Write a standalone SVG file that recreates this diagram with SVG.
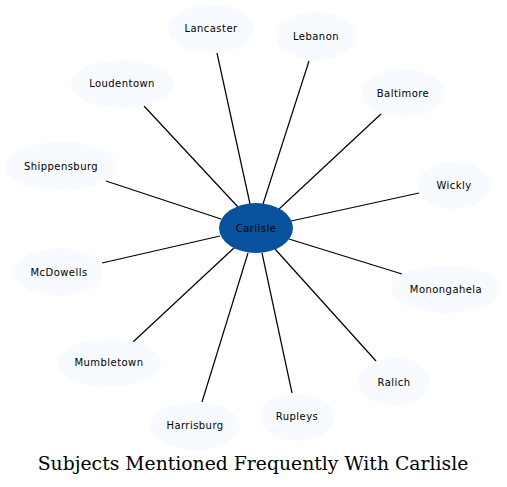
<svg xmlns="http://www.w3.org/2000/svg" width="507" height="487" viewBox="0 0 507 487">
<style>
.n ellipse{fill:#f7fbff;stroke:none}
.n text{font-family:"DejaVu Sans",sans-serif;font-size:10px;letter-spacing:0.45px;fill:#000;text-anchor:middle}
#edges line{stroke:#000;stroke-width:1.2}
.title{font-family:"DejaVu Serif",serif;font-size:18.8px;fill:#000;text-anchor:middle}
</style>
<rect width="507" height="487" fill="#fff"/>
<g id="edges">
<line x1="250" y1="204" x2="217" y2="53"/>
<line x1="263" y1="204" x2="309" y2="61"/>
<line x1="278" y1="210" x2="381" y2="114"/>
<line x1="238" y1="207" x2="144" y2="106"/>
<line x1="221" y1="219" x2="106" y2="181"/>
<line x1="291" y1="221" x2="419" y2="193"/>
<line x1="220" y1="236" x2="102" y2="263"/>
<line x1="289" y1="239" x2="402" y2="274"/>
<line x1="235" y1="247" x2="133" y2="342"/>
<line x1="275" y1="249" x2="376" y2="361"/>
<line x1="248" y1="253" x2="202" y2="402"/>
<line x1="262" y1="253" x2="292" y2="393"/>
</g>
<g id="carlisle" class="n"><ellipse cx="256" cy="228" rx="37" ry="25" style="fill:#08519c"/><text x="256" y="231.5">Carlisle</text></g>
<g id="lancaster" class="n"><ellipse cx="211" cy="29" rx="43" ry="24"/><text x="211" y="32">Lancaster</text></g>
<g id="lebanon" class="n"><ellipse cx="316" cy="36" rx="40" ry="24"/><text x="316" y="39.5">Lebanon</text></g>
<g id="baltimore" class="n"><ellipse cx="403" cy="93" rx="42" ry="24"/><text x="403" y="96.5">Baltimore</text></g>
<g id="loudentown" class="n"><ellipse cx="122" cy="84" rx="51" ry="24"/><text x="122" y="87">Loudentown</text></g>
<g id="shippensburg" class="n"><ellipse cx="61" cy="166" rx="56" ry="24"/><text x="61" y="169.5">Shippensburg</text></g>
<g id="wickly" class="n"><ellipse cx="454" cy="185" rx="36" ry="24"/><text x="454" y="188.5">Wickly</text></g>
<g id="mcdowells" class="n"><ellipse cx="59" cy="272" rx="45" ry="24"/><text x="59" y="275.5">McDowells</text></g>
<g id="monongahela" class="n"><ellipse cx="446" cy="289" rx="55" ry="24"/><text x="446" y="292.5">Monongahela</text></g>
<g id="mumbletown" class="n"><ellipse cx="109" cy="363" rx="52" ry="24"/><text x="109" y="366">Mumbletown</text></g>
<g id="ralich" class="n"><ellipse cx="394" cy="382" rx="36" ry="24"/><text x="394" y="385.5">Ralich</text></g>
<g id="harrisburg" class="n"><ellipse cx="195" cy="426" rx="45" ry="24"/><text x="195" y="429">Harrisburg</text></g>
<g id="rupleys" class="n"><ellipse cx="297" cy="417" rx="37" ry="24"/><text x="297" y="420">Rupleys</text></g>
<text class="title" x="253" y="470">Subjects Mentioned Frequently With Carlisle</text>
</svg>
